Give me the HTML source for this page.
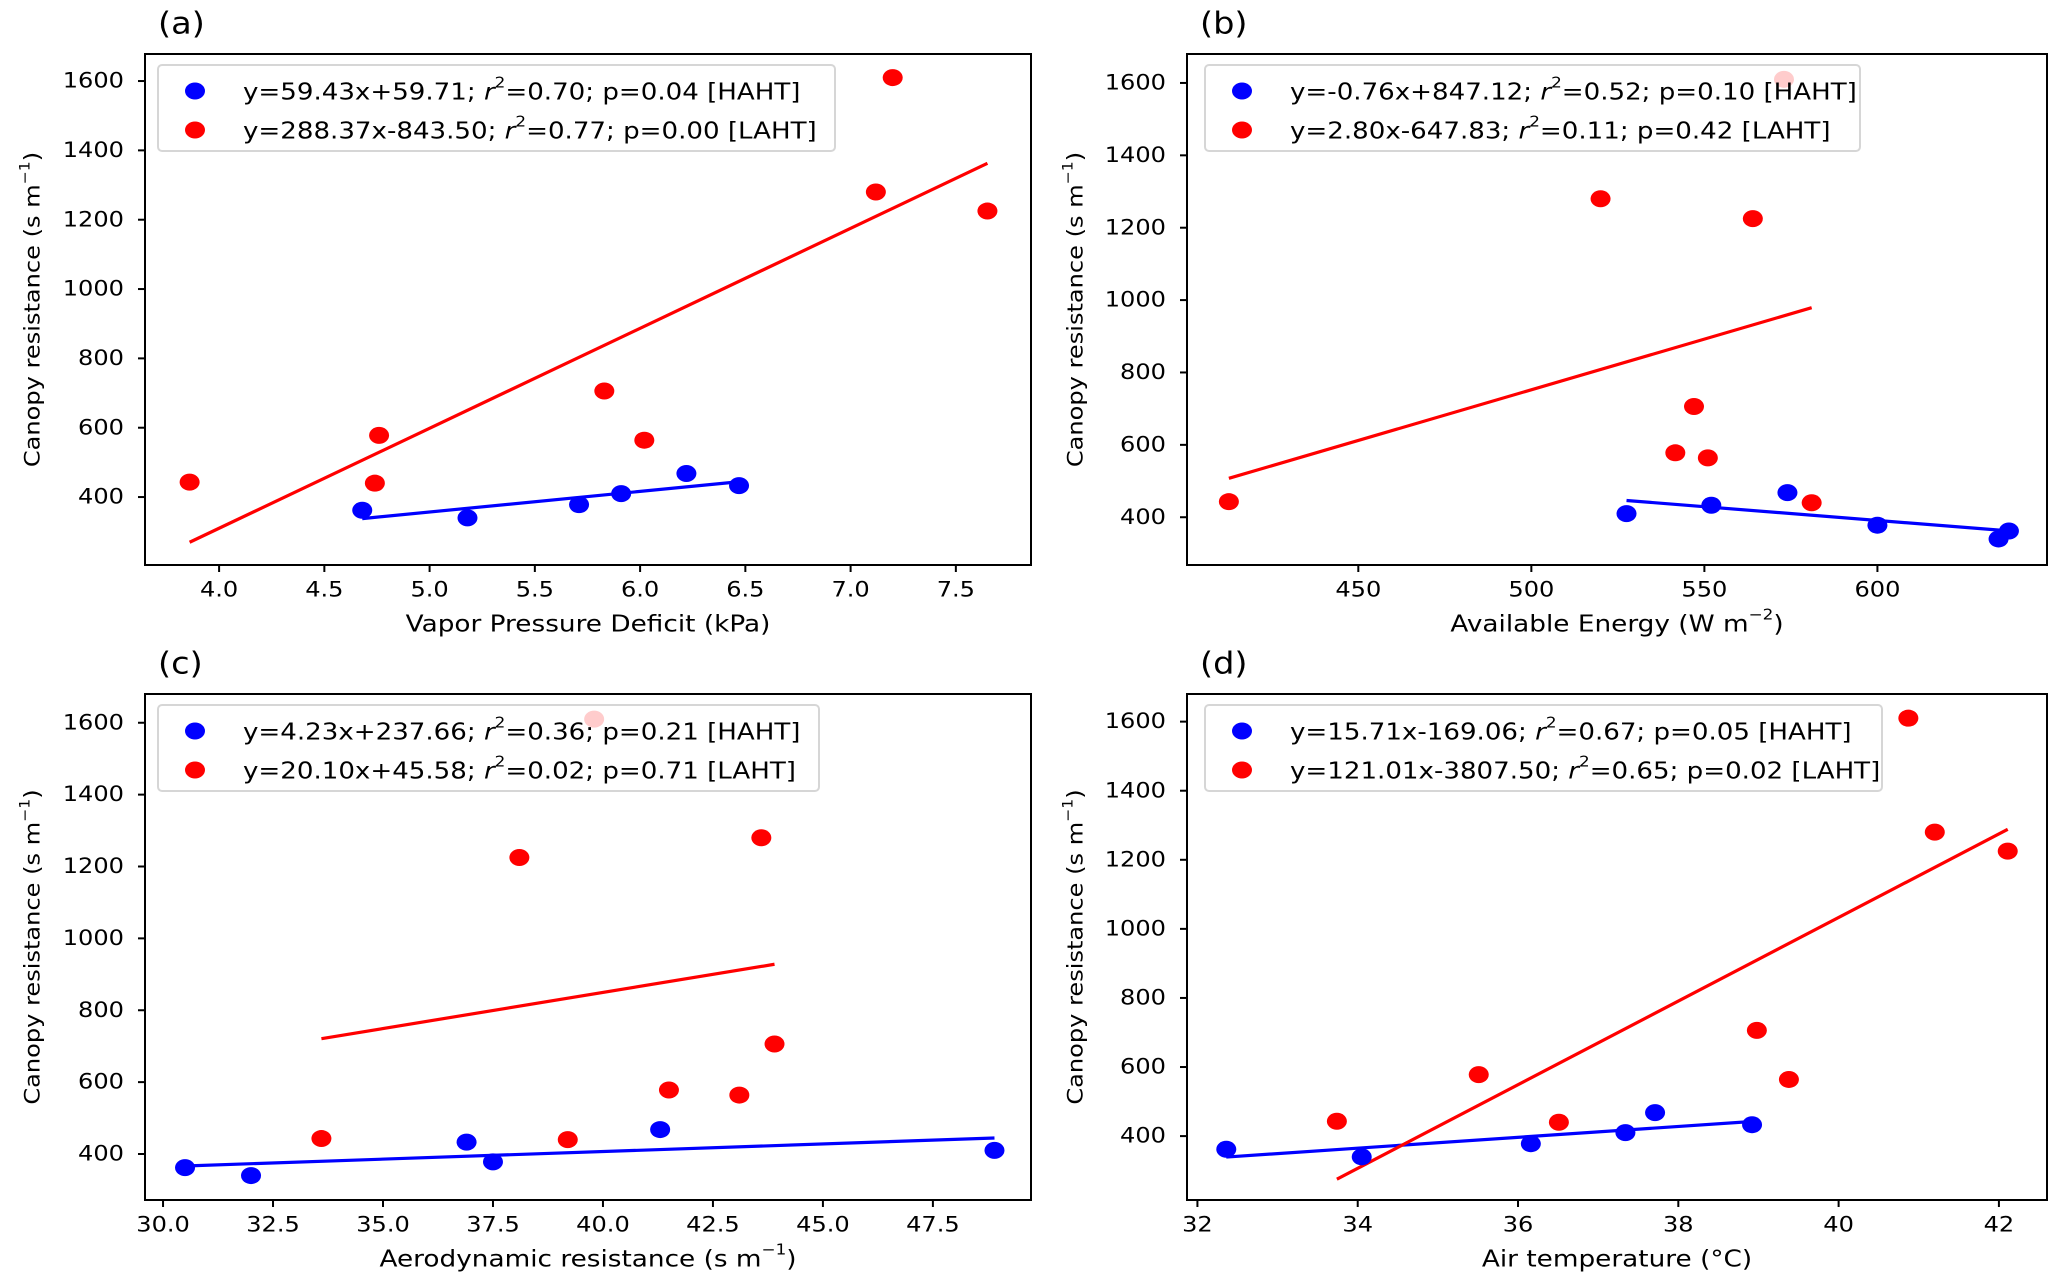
<!DOCTYPE html>
<html><head><meta charset="utf-8"><style>
html,body{margin:0;padding:0;background:#fff;}
svg text{font-family:"DejaVu Sans","Liberation Sans",sans-serif;fill:#000;}
</style></head><body>
<svg id="fig" width="2067" height="1281" viewBox="0 0 2067 1281" xmlns="http://www.w3.org/2000/svg"></svg>
<script>
// Shared canopy resistance values
const hahtY = [362, 340, 378, 410, 468, 433];
const lahtY = [443, 440, 578, 706, 564, 1280, 1610, 1225];
// Panel (a) VPD
const aHahtX = [4.68, 5.18, 5.71, 5.91, 6.22, 6.47];
const aLahtX = [3.86, 4.74, 4.76, 5.83, 6.02, 7.12, 7.20, 7.65];
const aTicks = [4.0, 4.5, 5.0, 5.5, 6.0, 6.5, 7.0, 7.5];
const aTickLabels = ["4.0","4.5","5.0","5.5","6.0","6.5","7.0","7.5"];
// Panel (b) available energy
const bHahtX = [638, 635, 600, 527.5, 574, 552];
const bLahtX = [412.6, 581, 541.6, 547, 551, 520, 573, 564];
const bTicks = [450, 500, 550, 600];
const bTickLabels = ["450","500","550","600"];
// Panel (c) aerodynamic resistance
const cHahtX = [30.5, 32.0, 37.5, 48.9, 41.3, 36.9];
const cLahtX = [33.6, 39.2, 41.5, 43.9, 43.1, 43.6, 39.8, 38.1];
const cTicks = [30.0, 32.5, 35.0, 37.5, 40.0, 42.5, 45.0, 47.5];
const cTickLabels = ["30.0","32.5","35.0","37.5","40.0","42.5","45.0","47.5"];
// Panel (d) air temperature
const dHahtX = [32.36, 34.05, 36.16, 37.34, 37.71, 38.92];
const dLahtX = [33.74, 36.51, 35.51, 38.98, 39.38, 41.20, 40.87, 42.11];
const dTicks = [32, 34, 36, 38, 40, 42];
const dTickLabels = ["32","34","36","38","40","42"];
const yTicks = [400, 600, 800, 1000, 1200, 1400, 1600];
const yTickLabels = ["400","600","800","1000","1200","1400","1600"];
// Fit coefficients [slope, intercept]
const aFit = [[59.43, 59.71], [288.37, -843.50]];
const bFit = [[-0.76, 847.12], [2.80, -647.83]];
const cFit = [[4.23, 237.66], [20.10, 45.58]];
const dFit = [[15.71, -169.06], [121.01, -3807.50]];
const legendText = {
  a: [["y=59.43x+59.71; ","0.70; p=0.04 [HAHT]"],["y=288.37x-843.50; ","0.77; p=0.00 [LAHT]"]],
  b: [["y=-0.76x+847.12; ","0.52; p=0.10 [HAHT]"],["y=2.80x-647.83; ","0.11; p=0.42 [LAHT]"]],
  c: [["y=4.23x+237.66; ","0.36; p=0.21 [HAHT]"],["y=20.10x+45.58; ","0.02; p=0.71 [LAHT]"]],
  d: [["y=15.71x-169.06; ","0.67; p=0.05 [HAHT]"],["y=121.01x-3807.50; ","0.65; p=0.02 [LAHT]"]]
};

const NS = "http://www.w3.org/2000/svg";
const svg = document.getElementById('fig');
function mk(tag, attrs, parent){ const e=document.createElementNS(NS,tag); for(const k in attrs) e.setAttribute(k,attrs[k]); (parent||svg).appendChild(e); return e; }
const SX = 1.12;
function txt(parent, x, y, s, size, anchor, name){
  const g = mk('g',{transform:`translate(${x},${y}) scale(${SX},1)`},parent);
  const t = mk('text',{x:0,y:0,'font-size':size,'text-anchor':anchor||'start','dominant-baseline':'central'},g);
  t.textContent = s;
  
  
  return t;
}

const panels = [
 {id:'a', box:[145,1031,54,565], xl:[3.648,7.857], yl:[204,1678], hx:aHahtX, lx:aLahtX, ticks:aTicks, tl:aTickLabels, fit:aFit, xlabel:'Vapor Pressure Deficit (kPa)', xsup:null, leg:[158,835], ylabX:33},
 {id:'b', box:[1187,2047,54,565], xl:[400.5,649], yl:[268,1680], hx:bHahtX, lx:bLahtX, ticks:bTicks, tl:bTickLabels, fit:bFit, xlabel:'Available Energy (W m', xsup:'−2', leg:[1205,1860], ylabX:1076},
 {id:'c', box:[145,1031,694,1200], xl:[29.59,49.73], yl:[272,1680], hx:cHahtX, lx:cLahtX, ticks:cTicks, tl:cTickLabels, fit:cFit, xlabel:'Aerodynamic resistance (s m', xsup:'−1', leg:[158,819], ylabX:33},
 {id:'d', box:[1187,2047,694,1200], xl:[31.87,42.6], yl:[215,1680], hx:dHahtX, lx:dLahtX, ticks:dTicks, tl:dTickLabels, fit:dFit, xlabel:'Air temperature  (°C)', xsup:null, leg:[1205,1882], ylabX:1076}
];

panels.forEach(p=>{
  const [L,R,T,B] = p.box;
  const g = mk('g',{});
  
  
  const X = v => L + (v-p.xl[0])/(p.xl[1]-p.xl[0])*(R-L);
  const Y = v => B - (v-p.yl[0])/(p.yl[1]-p.yl[0])*(B-T);
  txt(g, L+13, T-31, '('+p.id+')', 30, 'start', 'panel-label');
  const sets = [[p.hx,hahtY,'#0000ff','haht'],[p.lx,lahtY,'#ff0000','laht']];
  sets.forEach(([xs,ys,col,nm],i)=>{
    const mn=Math.min(...xs), mx=Math.max(...xs);
    const [m,c]=p.fit[i];
    const ln = mk('line',{x1:X(mn),y1:Y(m*mn+c),x2:X(mx),y2:Y(m*mx+c),stroke:col,'stroke-width':3.2},g);
    
    
  });
  sets.forEach(([xs,ys,col,nm])=>{
    xs.forEach((xv,k)=>{
      const e = mk('ellipse',{cx:X(xv),cy:Y(ys[k]),rx:10,ry:8.5,fill:col},g);
      
      
    });
  });
  const lg = mk('g',{},g);
  
  
  mk('rect',{x:p.leg[0],y:T+11,width:p.leg[1]-p.leg[0],height:86,rx:4,fill:'#fff','fill-opacity':0.8,stroke:'#d6d6d6','stroke-width':2},lg);
  [['#0000ff',0],['#ff0000',1]].forEach(([col,i])=>{
    const cy = T+37+i*39;
    const m = mk('ellipse',{cx:p.leg[0]+37,cy:cy,rx:10,ry:8.5,fill:col},lg);
    
    
    const gg = mk('g',{transform:`translate(${p.leg[0]+85},${cy}) scale(${SX},1)`},lg);
    const t = mk('text',{x:0,y:0,'font-size':23.3,'dominant-baseline':'central'},gg);
    
    
    const parts = legendText[p.id][i];
    const s1 = mk('tspan',{},t); s1.textContent = parts[0];
    const s2 = mk('tspan',{'font-style':'italic'},t); s2.textContent = 'r';
    const s3 = mk('tspan',{'font-size':15,dy:-9},t); s3.textContent = '2';
    const s4 = mk('tspan',{dy:9},t); s4.textContent = '='+parts[1];
  });
  const bx = mk('rect',{x:L,y:T,width:R-L,height:B-T,fill:'none',stroke:'#000','stroke-width':2},g);
  
  
  p.ticks.forEach((v,k)=>{
    mk('line',{x1:X(v),y1:B,x2:X(v),y2:B+7,stroke:'#000','stroke-width':2},g);
    txt(g, X(v), B+25, p.tl[k], 21.5, 'middle', 'x-tick-label');
  });
  yTicks.forEach((v,k)=>{
    mk('line',{x1:L-7,y1:Y(v),x2:L,y2:Y(v),stroke:'#000','stroke-width':2},g);
    txt(g, L-21, Y(v), yTickLabels[k], 21.5, 'end', 'y-tick-label');
  });
  const xg = mk('g',{transform:`translate(${(L+R)/2},${B+58}) scale(${SX},1)`},g);
  const xt = mk('text',{x:0,y:0,'font-size':23.5,'text-anchor':'middle','dominant-baseline':'central'},xg);
  
  
  const x1 = mk('tspan',{},xt); x1.textContent = p.xlabel;
  if(p.xsup){ const x2=mk('tspan',{'font-size':15,dy:-9},xt); x2.textContent=p.xsup; const x3=mk('tspan',{dy:9},xt); x3.textContent=')'; }
  const yg = mk('g',{transform:`translate(${p.ylabX},${(T+B)/2}) rotate(-90) scale(${SX},1)`},g);
  const yt = mk('text',{x:0,y:0,'font-size':21.5,'text-anchor':'middle','dominant-baseline':'central'},yg);
  
  
  const y1 = mk('tspan',{},yt); y1.textContent='Canopy resistance (s m';
  const y2 = mk('tspan',{'font-size':14,dy:-8},yt); y2.textContent='−1';
  const y3 = mk('tspan',{dy:8},yt); y3.textContent=')';
});
</script>
</body></html>
